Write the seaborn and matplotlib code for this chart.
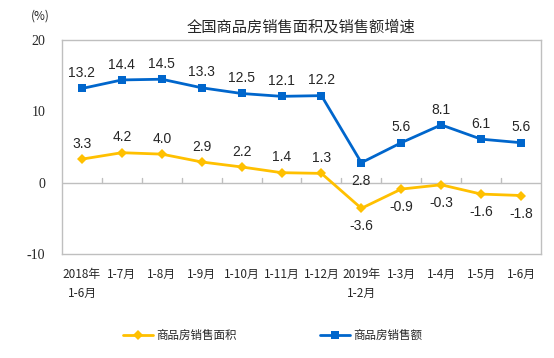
import pandas as pd
import matplotlib.pyplot as plt
import seaborn as sns

months = ["2018年\n1-6月", "1-7月", "1-8月", "1-9月", "1-10月", "1-11月", "1-12月",
          "2019年\n1-2月", "1-3月", "1-4月", "1-5月", "1-6月"]
area_growth = [3.3, 4.2, 4.0, 2.9, 2.2, 1.4, 1.3, -3.6, -0.9, -0.3, -1.6, -1.8]
sales_growth = [13.2, 14.4, 14.5, 13.3, 12.5, 12.1, 12.2, 2.8, 5.6, 8.1, 6.1, 5.6]
yticks = [-10, 0, 10, 20]

sns.set_theme(style="white")
plt.rcParams['font.family'] = ['Noto Sans CJK SC', 'DejaVu Sans']

df = pd.DataFrame({"idx": range(len(months)), "area": area_growth, "sales": sales_growth})

yellow = "#FFC000"
blue = "#0066CC"
grey = "#BFBFBF"

fig = plt.figure(figsize=(5.54, 3.58), dpi=100)
ax = fig.add_axes([0.1119, 0.2905, 0.8646, 0.5978])

sns.lineplot(data=df, x="idx", y="area", ax=ax, color=yellow, marker="D",
             markersize=5, markeredgewidth=0, linewidth=2, label="商品房销售面积")
sns.lineplot(data=df, x="idx", y="sales", ax=ax, color=blue, marker="s",
             markersize=5.5, markeredgewidth=0, linewidth=2, label="商品房销售额")

ax.set_xlim(-0.5, len(months) - 0.5)
ax.set_ylim(-10, 20)
ax.set_yticks(yticks)
ax.set_yticklabels([str(t) for t in yticks], family="Liberation Serif", fontsize=10)
ax.set_xticks(range(len(months)))
ax.set_xticklabels(months, fontsize=8.5, linespacing=1.6)
ax.tick_params(axis="x", length=0, pad=10)
ax.tick_params(axis="y", length=0, pad=12)
ax.set_xlabel("")
ax.set_ylabel("")

for s in ax.spines.values():
    s.set_color(grey)
    s.set_linewidth(1)

# zero line with small ticks between categories
ax.axhline(0, color=grey, linewidth=1, zorder=1)
for i in range(1, len(months)):
    ax.plot([i - 0.5, i - 0.5], [0, 0.6], color=grey, linewidth=1, zorder=1)

for i, v in enumerate(sales_growth):
    if i == 7:
        ax.annotate(f"{v:.1f}", (i, v), xytext=(0, -8), textcoords="offset points",
                    ha="center", va="top", fontsize=10, family="Liberation Sans")
    else:
        ax.annotate(f"{v:.1f}", (i, v), xytext=(0, 6), textcoords="offset points",
                    ha="center", va="bottom", fontsize=10, family="Liberation Sans")

for i, v in enumerate(area_growth):
    if v >= 0:
        ax.annotate(f"{v:.1f}", (i, v), xytext=(0, 6), textcoords="offset points",
                    ha="center", va="bottom", fontsize=10, family="Liberation Sans")
    else:
        ax.annotate(f"{v:.1f}", (i, v), xytext=(0, -8), textcoords="offset points",
                    ha="center", va="top", fontsize=10, family="Liberation Sans")

ax.get_legend().remove()
handles, labels = ax.get_legend_handles_labels()
fig.legend(handles, labels, loc="center", bbox_to_anchor=(0.492, 0.062), ncol=2,
           frameon=False, fontsize=8.3, columnspacing=7.2, handlelength=2.6,
           handletextpad=0.3, borderpad=0, borderaxespad=0)

fig.text(0.543, 0.925, "全国商品房销售面积及销售额增速", ha="center", va="center", fontsize=11)
fig.text(0.072, 0.955, "(%)", ha="center", va="center", fontsize=8.5)

fig.savefig("out.png", dpi=100)
